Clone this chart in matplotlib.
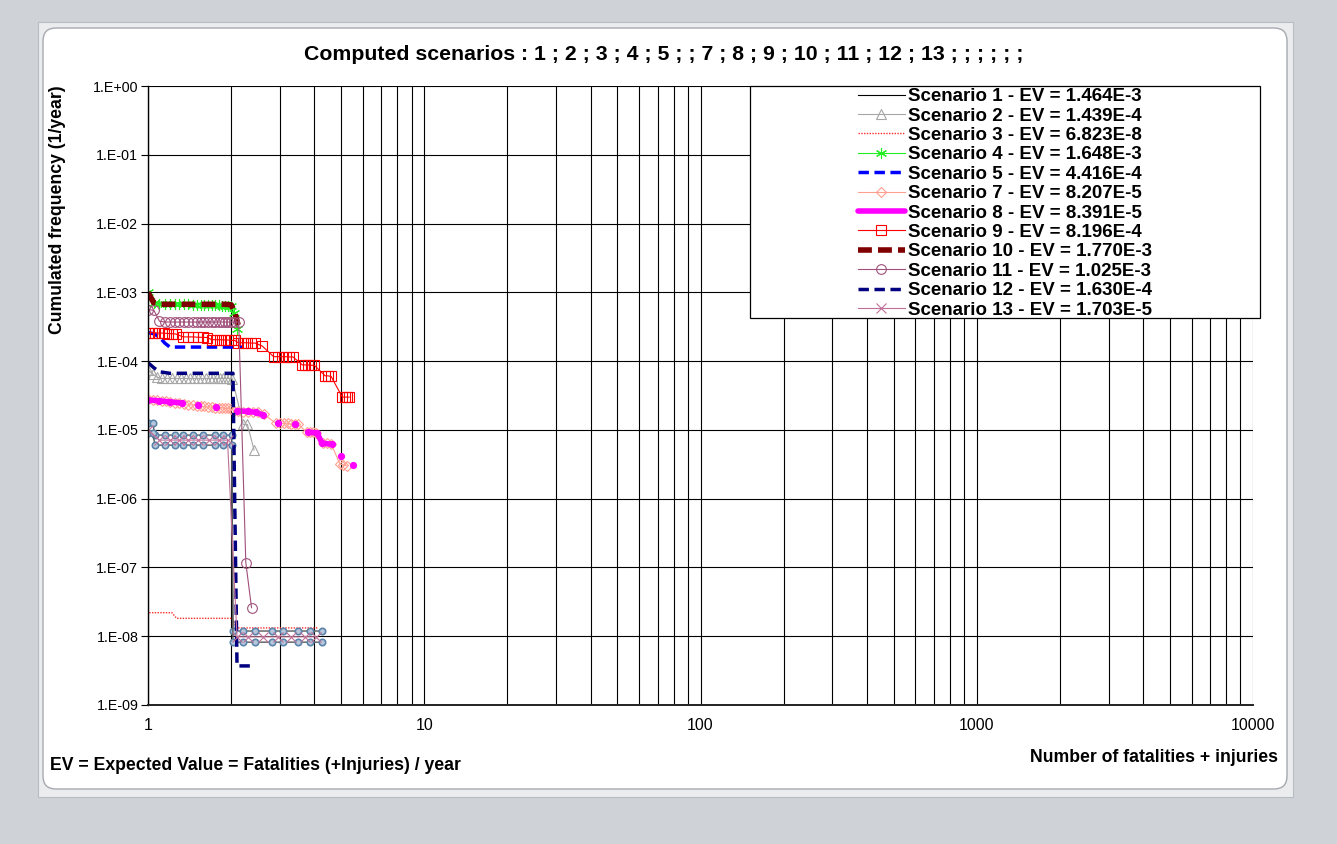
import numpy as np
import matplotlib
matplotlib.use("Agg")
import matplotlib.pyplot as plt
from matplotlib.patches import FancyBboxPatch, Rectangle
from matplotlib.ticker import FixedLocator, FuncFormatter, NullLocator

plt.rcParams['font.family'] = ['Liberation Sans', 'DejaVu Sans']

# ---------------- data: N (fatalities + injuries) vs cumulated frequency ----------------
s1_x = [1.0, 1.05, 1.5, 2.0, 2.1]
s1_y = [1.0e-3, 7.0e-4, 6.8e-4, 6.6e-4, 3.0e-4]

s2_x = [1.0, 1.04, 1.08, 1.12, 1.17, 1.22, 1.27, 1.32, 1.37, 1.42, 1.47, 1.52, 1.57, 1.62,
        1.67, 1.72, 1.77, 1.82, 1.87, 1.92, 1.97, 2.02, 2.21, 2.29, 2.42]
s2_y = [7.4e-5, 6.5e-5, 5.8e-5, 5.6e-5, 5.6e-5, 5.6e-5, 5.6e-5, 5.6e-5, 5.6e-5, 5.6e-5,
        5.6e-5, 5.6e-5, 5.6e-5, 5.6e-5, 5.6e-5, 5.6e-5, 5.6e-5, 5.6e-5, 5.6e-5, 5.6e-5,
        5.6e-5, 5.5e-5, 1.2e-5, 1.2e-5, 5.1e-6]

s3_x = [1.01, 1.22, 1.27, 2.01, 2.10, 4.10]
s3_y = [2.2e-8, 2.2e-8, 1.82e-8, 1.82e-8, 1.32e-8, 1.32e-8]

s4_x = [1.0, 1.05, 1.1, 1.15, 1.2, 1.25, 1.3, 1.35, 1.4, 1.45, 1.5, 1.55, 1.6, 1.65, 1.7,
        1.75, 1.8, 1.85, 1.9, 1.95, 2.0, 2.05, 2.1]
s4_y = [1.0e-3, 7.0e-4, 6.8e-4, 6.8e-4, 6.8e-4, 6.8e-4, 6.7e-4, 6.7e-4, 6.7e-4, 6.6e-4,
        6.6e-4, 6.6e-4, 6.6e-4, 6.5e-4, 6.5e-4, 6.5e-4, 6.5e-4, 6.4e-4, 6.4e-4, 6.4e-4,
        6.4e-4, 5.0e-4, 2.9e-4]

s5_x = [1.0, 1.05, 1.1, 1.15, 1.2, 1.5, 1.8, 2.0, 2.21]
s5_y = [2.6e-4, 2.5e-4, 2.24e-4, 1.83e-4, 1.6e-4, 1.6e-4, 1.6e-4, 1.6e-4, 1.6e-4]

# band of points not listed in the legend (two rows)
band_x = [1.0, 1.04, 1.06, 1.152, 1.252, 1.342, 1.459, 1.586, 1.748, 1.873, 2.01,
          2.03, 2.21, 2.44, 2.80, 3.09, 3.50, 3.86, 4.26]
band_hi = [1.26e-5, 1.26e-5, 8.4e-6, 8.4e-6, 8.4e-6, 8.4e-6, 8.4e-6, 8.4e-6, 8.4e-6, 8.4e-6,
           8.4e-6, 1.19e-8, 1.19e-8, 1.19e-8, 1.19e-8, 1.19e-8, 1.19e-8, 1.19e-8, 1.19e-8]
band_lo = [9.0e-6, 9.0e-6, 6.0e-6, 6.0e-6, 6.0e-6, 6.0e-6, 6.0e-6, 6.0e-6, 6.0e-6, 6.0e-6,
           6.0e-6, 8.2e-9, 8.2e-9, 8.2e-9, 8.2e-9, 8.2e-9, 8.2e-9, 8.2e-9, 8.2e-9]

s7_x = [1.0, 1.04, 1.08, 1.12, 1.16, 1.2, 1.25, 1.3, 1.35, 1.4, 1.45, 1.5, 1.55, 1.6, 1.65,
        1.7, 1.75, 1.8, 1.85, 1.9, 1.95, 2.0, 2.05, 2.12, 2.2, 2.3, 2.4, 2.5, 2.62, 2.9, 3.0,
        3.1, 3.2, 3.3, 3.4, 3.5, 3.75, 3.85, 3.95, 4.05, 4.3, 4.45, 4.6, 4.95, 5.1, 5.25]
s7_y = [2.8e-5, 2.75e-5, 2.7e-5, 2.65e-5, 2.6e-5, 2.55e-5, 2.5e-5, 2.45e-5, 2.35e-5, 2.3e-5,
        2.3e-5, 2.25e-5, 2.2e-5, 2.2e-5, 2.15e-5, 2.15e-5, 2.1e-5, 2.1e-5, 2.1e-5, 2.05e-5,
        2.05e-5, 2.0e-5, 1.9e-5, 1.9e-5, 1.85e-5, 1.85e-5, 1.8e-5, 1.8e-5, 1.7e-5, 1.25e-5,
        1.25e-5, 1.25e-5, 1.25e-5, 1.2e-5, 1.2e-5, 1.2e-5, 9.3e-6, 9.3e-6, 9.2e-6, 9.0e-6,
        6.5e-6, 6.4e-6, 6.3e-6, 3.2e-6, 3.1e-6, 3.0e-6]

# NaN entries separate the drawn segments
s8_x = [1.0, 1.1, 1.2, 1.33, np.nan, 1.52, np.nan, 1.76, np.nan, 2.10, 2.3, 2.45, 2.61, np.nan,
        2.955, np.nan, 3.41, np.nan, 3.80, 4.09, 4.27, 4.63, np.nan, 4.99, np.nan, 5.51]
s8_y = [2.72e-5, 2.65e-5, 2.55e-5, 2.46e-5, np.nan, 2.3e-5, np.nan, 2.15e-5, np.nan, 1.88e-5,
        1.86e-5, 1.8e-5, 1.65e-5, np.nan, 1.26e-5, np.nan, 1.22e-5, np.nan, 9.3e-6, 9.0e-6,
        6.4e-6, 6.2e-6, np.nan, 4.18e-6, np.nan, 3.09e-6]

s9_x = [1.00, 1.03, 1.06, 1.10, 1.14, 1.18, 1.22, 1.26, 1.34, 1.40, 1.46, 1.52, 1.58, 1.64,
        1.70, 1.76, 1.82, 1.88, 1.94, 2.00, 2.06, 2.12, 2.20, 2.28, 2.36, 2.44, 2.59, 2.85,
        2.95, 3.05, 3.15, 3.25, 3.35, 3.62, 3.70, 3.80, 3.90, 4.00, 4.38, 4.48, 4.60, 5.05,
        5.15, 5.25, 5.35]
s9_y = [2.6e-4, 2.6e-4, 2.58e-4, 2.56e-4, 2.55e-4, 2.52e-4, 2.5e-4, 2.48e-4, 2.25e-4,
        2.25e-4, 2.25e-4, 2.22e-4, 2.22e-4, 2.2e-4, 2.05e-4, 2.05e-4, 2.05e-4, 2.03e-4,
        2.03e-4, 2.0e-4, 2.0e-4, 1.85e-4, 1.85e-4, 1.85e-4, 1.83e-4, 1.83e-4, 1.66e-4,
        1.16e-4, 1.16e-4, 1.16e-4, 1.16e-4, 1.15e-4, 1.15e-4, 8.8e-5, 8.8e-5, 8.8e-5, 8.7e-5,
        8.7e-5, 6.1e-5, 6.1e-5, 6.0e-5, 3.0e-5, 3.0e-5, 3.0e-5, 3.0e-5]

s10_x = [1.0, 1.05, 1.1, 1.3, 1.5, 1.7, 1.9, 2.0, 2.06, 2.12]
s10_y = [1.0e-3, 7.0e-4, 6.7e-4, 6.7e-4, 6.7e-4, 6.7e-4, 6.7e-4, 6.6e-4, 5.2e-4, 3.35e-4]

s11_x = [1.0, 1.05, 1.1, 1.15, 1.2, 1.25, 1.3, 1.35, 1.4, 1.45, 1.5, 1.55, 1.6, 1.65, 1.7,
         1.75, 1.8, 1.85, 1.9, 1.95, 2.0, 2.05, 2.13, 2.26, 2.37]
s11_y = [5.6e-4, 5.5e-4, 3.8e-4, 3.7e-4, 3.7e-4, 3.7e-4, 3.7e-4, 3.7e-4, 3.7e-4, 3.7e-4,
         3.7e-4, 3.7e-4, 3.7e-4, 3.7e-4, 3.7e-4, 3.7e-4, 3.7e-4, 3.7e-4, 3.7e-4, 3.7e-4,
         3.7e-4, 3.7e-4, 3.7e-4, 1.17e-7, 2.6e-8]

s12_x = [1.0, 1.05, 1.1, 1.2, 2.03, 2.1, 2.35]
s12_y = [9.5e-5, 8.0e-5, 7.0e-5, 6.65e-5, 6.65e-5, 3.7e-9, 3.7e-9]

s13_x = [1.0, 1.1, 1.2, 1.3, 1.4, 1.52, 1.66, 1.8, 1.94, 2.1, 2.3, 2.6, 2.95, 3.3, 3.7, 4.05]
s13_y = [1.0e-5, 7.1e-6, 7.1e-6, 7.1e-6, 7.1e-6, 7.1e-6, 7.1e-6, 7.1e-6, 7.1e-6, 9.8e-9,
         9.8e-9, 9.8e-9, 9.8e-9, 9.8e-9, 9.8e-9, 9.8e-9]

labels = ["Scenario 1 - EV = 1.464E-3", "Scenario 2 - EV = 1.439E-4",
          "Scenario 3 - EV = 6.823E-8", "Scenario 4 - EV = 1.648E-3",
          "Scenario 5 - EV = 4.416E-4", "Scenario 7 - EV = 8.207E-5",
          "Scenario 8 - EV = 8.391E-5", "Scenario 9 - EV = 8.196E-4",
          "Scenario 10 - EV = 1.770E-3", "Scenario 11 - EV = 1.025E-3",
          "Scenario 12 - EV = 1.630E-4", "Scenario 13 - EV = 1.703E-5"]

x_ticks = [1, 10, 100, 1000, 10000]
y_exponents = list(range(0, -10, -1))

title_text = "Computed scenarios : 1 ; 2 ; 3 ; 4 ; 5 ; ; 7 ; 8 ; 9 ; 10 ; 11 ; 12 ; 13 ; ; ; ; ; ;"
ylabel_text = "Cumulated frequency (1/year)"
xlabel_text = "Number of fatalities + injuries"
note_text = "EV = Expected Value = Fatalities (+Injuries) / year"

# ---------------- figure and chart frame ----------------
W, H = 1337, 844
fig = plt.figure(figsize=(W / 100, H / 100), dpi=100, facecolor="#cfd2d7")


def px_box(x0, y0, x1, y1):
    """Convert a pixel box (top-left origin) to inches for dpi_scale_trans."""
    return x0 / 100, (H - y1) / 100, (x1 - x0) / 100, (y1 - y0) / 100


bx, by, bw, bh = px_box(38, 22, 1293, 797)
fig.patches.append(Rectangle((bx, by), bw, bh, transform=fig.dpi_scale_trans,
                             facecolor="#ebecee", edgecolor="#b9bcc1", lw=0.8, zorder=-3))
bx, by, bw, bh = px_box(43, 28, 1287, 789)
fig.patches.append(FancyBboxPatch((bx, by), bw, bh, transform=fig.dpi_scale_trans,
                                  boxstyle="round,pad=0,rounding_size=0.13",
                                  facecolor="white", edgecolor="#a5a9af", lw=1.0, zorder=-2))

ax = fig.add_axes([148 / W, 1 - 705 / H, (1253 - 148) / W, (705 - 86) / H])
ax.set_facecolor("white")
ax.set_xscale("log")
ax.set_yscale("log")
ax.set_xlim(1, 10000)
ax.set_ylim(1e-9, 1)

ax.xaxis.set_major_locator(FixedLocator(x_ticks))
ax.xaxis.set_major_formatter(FuncFormatter(lambda v, p: f"{int(round(v))}"))
minor_x = [m * 10 ** d for d in range(0, 4) for m in range(2, 10)]
ax.xaxis.set_minor_locator(FixedLocator(minor_x))
ax.xaxis.set_minor_formatter(FuncFormatter(lambda v, p: ""))
ax.yaxis.set_major_locator(FixedLocator([10.0 ** e for e in y_exponents]))
ax.yaxis.set_major_formatter(FuncFormatter(lambda v, p: f"1.E{int(round(np.log10(v))):+03d}"))
ax.yaxis.set_minor_locator(NullLocator())

ax.grid(which="major", axis="both", color="black", lw=0.8)
ax.grid(which="minor", axis="x", color="black", lw=0.8)
ax.set_axisbelow(True)
ax.tick_params(axis="x", which="both", length=0, pad=9, labelsize=11.5)
ax.tick_params(axis="y", which="major", length=5, width=0.8, pad=2, labelsize=10.3, direction="out")
for side in ("top", "right"):
    ax.spines[side].set_visible(False)
ax.spines["left"].set_linewidth(1.0)
ax.spines["bottom"].set_linewidth(1.4)
ax.spines["bottom"].set_color("#222222")

# ---------------- series ----------------
h = []
h += ax.plot(s1_x, s1_y, color="black", lw=0.8)
h += ax.plot(s2_x, s2_y, color="#a6a6a6", lw=0.8, marker="^", ms=6.5, mfc="none", mec="#a6a6a6", mew=0.8)
h += ax.plot(s3_x, s3_y, color="#ff2a2a", lw=1.0, ls=(0, (1, 1)))
h += ax.plot(s4_x, s4_y, color="#22ee22", lw=0.8, marker=(6, 2, 0), ms=8, mec="#22ee22", mew=0.8)
h += ax.plot(s5_x, s5_y, color="#0000ff", lw=2.5, ls=(0, (3, 1.6)))
ax.plot(band_x, band_hi, color="#5a5a5a", lw=1.0, marker="o", ms=4.6, mfc="#b7c8dc", mec="#5b84ab", mew=1.2)
ax.plot(band_x, band_lo, color="#5a5a5a", lw=1.0, marker="o", ms=4.6, mfc="#b7c8dc", mec="#5b84ab", mew=1.2)
h += ax.plot(s7_x, s7_y, color="#ff9f90", lw=0.8, marker="D", ms=5.5, mfc="none", mec="#ff9f90", mew=0.8)
h += ax.plot(s8_x, s8_y, color="#ff00ff", lw=4, solid_capstyle="round")
ax.plot(s8_x, s8_y, ls="none", marker="o", ms=4.2, color="#ff00ff")
h += ax.plot(s9_x, s9_y, color="#ff0000", lw=0.8, marker="s", ms=7.5, mfc="none", mec="#ff0000", mew=0.8)
h += ax.plot(s10_x, s10_y, color="#800000", lw=4, ls=(0, (2.5, 1.1)))
h += ax.plot(s11_x, s11_y, color="#a0507a", lw=0.8, marker="o", ms=7, mfc="none", mec="#a0507a", mew=0.8)
h += ax.plot(s12_x, s12_y, color="#000080", lw=2.5, ls=(0, (3, 1.6)))
h += ax.plot(s13_x, s13_y, color="#c07098", lw=0.8, marker="x", ms=6.5, mec="#c07098", mew=0.8)

# ---------------- legend box ----------------
lx0, ly0, lx1, ly1 = 750, 86, 1260, 318
ax.add_patch(Rectangle((lx0 / W, 1 - ly1 / H), (lx1 - lx0) / W, (ly1 - ly0) / H,
                       transform=fig.transFigure, facecolor="white", edgecolor="black",
                       lw=0.9, zorder=10, clip_on=False))
leg = ax.legend(h, labels, loc="upper left", bbox_to_anchor=(858 / W, 1 - 88 / H),
                bbox_transform=fig.transFigure, frameon=False, borderpad=0, borderaxespad=0,
                handlelength=2.5, handletextpad=0.16, labelspacing=0.122,
                prop={"weight": "bold", "size": 13.5})
leg.set_zorder(11)

# ---------------- texts ----------------
fig.text(664 / W, 1 - 54 / H, title_text, ha="center", va="center", fontsize=15.3, fontweight="bold")
fig.text(57 / W, 1 - 210 / H, ylabel_text, ha="center", va="center", rotation=90,
         fontsize=12.7, fontweight="bold")
fig.text(1278 / W, 1 - 757 / H, xlabel_text, ha="right", va="center", fontsize=12.7, fontweight="bold")
fig.text(50 / W, 1 - 766 / H, note_text, ha="left", va="center", fontsize=12.7, fontweight="bold")

fig.savefig("out.png", dpi=100, facecolor=fig.get_facecolor())
